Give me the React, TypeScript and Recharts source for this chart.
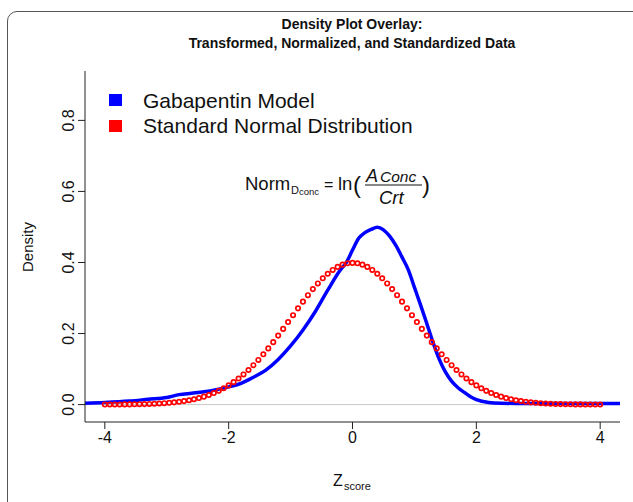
import { LineChart, Line, XAxis, YAxis, ReferenceLine } from "recharts";

// Gabapentin model density
const zBlue = [-4.32, -4.0, -3.6, -3.3, -3.0, -2.8, -2.6, -2.4, -2.2, -2.0, -1.8, -1.6, -1.4, -1.2, -1.0, -0.8, -0.6, -0.4, -0.2, -0.1, 0.0, 0.1, 0.2, 0.3, 0.4, 0.5, 0.6, 0.7, 0.8, 0.9, 1.0, 1.1, 1.2, 1.3, 1.4, 1.5, 1.6, 1.7, 1.8, 1.9, 2.0, 2.2, 2.4, 2.8, 3.5, 4.32];
const densBlue = [0.004, 0.006, 0.01, 0.015, 0.02, 0.028, 0.032, 0.036, 0.042, 0.05, 0.06, 0.077, 0.097, 0.127, 0.165, 0.21, 0.262, 0.322, 0.378, 0.4, 0.435, 0.468, 0.484, 0.493, 0.499, 0.492, 0.474, 0.448, 0.415, 0.38, 0.33, 0.28, 0.228, 0.175, 0.128, 0.092, 0.066, 0.048, 0.035, 0.023, 0.014, 0.006, 0.004, 0.003, 0.003, 0.003];

// standard normal reference points
const zRed = [
  -4.0, -3.92, -3.84, -3.76, -3.68, -3.6, -3.52, -3.44, -3.36, -3.28, -3.2, -3.12, -3.04, -2.96, -2.88, -2.8, -2.72,
  -2.64, -2.56, -2.48, -2.4, -2.32, -2.24, -2.16, -2.08, -2.0, -1.92, -1.84, -1.76, -1.68, -1.6, -1.52, -1.44, -1.36,
  -1.28, -1.2, -1.12, -1.04, -0.96, -0.88, -0.8, -0.72, -0.64, -0.56, -0.48, -0.4, -0.32, -0.24, -0.16, -0.08, 0.0,
  0.08, 0.16, 0.24, 0.32, 0.4, 0.48, 0.56, 0.64, 0.72, 0.8, 0.88, 0.96, 1.04, 1.12, 1.2, 1.28, 1.36, 1.44, 1.52, 1.6,
  1.68, 1.76, 1.84, 1.92, 2.0, 2.08, 2.16, 2.24, 2.32, 2.4, 2.48, 2.56, 2.64, 2.72, 2.8, 2.88, 2.96, 3.04, 3.12, 3.2,
  3.28, 3.36, 3.44, 3.52, 3.6, 3.68, 3.76, 3.84, 3.92, 4.0,
];
const densRed = [
  0.0001, 0.0002, 0.0003, 0.0003, 0.0005, 0.0006, 0.0008, 0.0011, 0.0014, 0.0018, 0.0024, 0.0031, 0.0039, 0.005,
  0.0063, 0.0079, 0.0099, 0.0122, 0.0151, 0.0184, 0.0224, 0.027, 0.0325, 0.0387, 0.0459, 0.054, 0.0632, 0.0734,
  0.0848, 0.0973, 0.1109, 0.1257, 0.1415, 0.1582, 0.1758, 0.1942, 0.2131, 0.2323, 0.2516, 0.2709, 0.2897, 0.3079,
  0.3251, 0.341, 0.3555, 0.3683, 0.379, 0.3876, 0.3939, 0.3977, 0.3989, 0.3977, 0.3939, 0.3876, 0.379, 0.3683,
  0.3555, 0.341, 0.3251, 0.3079, 0.2897, 0.2709, 0.2516, 0.2323, 0.2131, 0.1942, 0.1758, 0.1582, 0.1415, 0.1257,
  0.1109, 0.0973, 0.0848, 0.0734, 0.0632, 0.054, 0.0459, 0.0387, 0.0325, 0.027, 0.0224, 0.0184, 0.0151, 0.0122,
  0.0099, 0.0079, 0.0063, 0.005, 0.0039, 0.0031, 0.0024, 0.0018, 0.0014, 0.0011, 0.0008, 0.0006, 0.0005, 0.0003,
  0.0003, 0.0002, 0.0001,
];

const xTicks = [-4, -2, 0, 2, 4];
const yTicks = [0, 0.2, 0.4, 0.6, 0.8];
const legendNames = ["Gabapentin Model", "Standard Normal Distribution"];
const legendColors = ["#0000FF", "#FF0000"];

const X_DOMAIN: [number, number] = [-4.32, 4.32];
const Y_DOMAIN: [number, number] = [-0.049, 0.939];
const FONT = "'Liberation Sans', Arial, sans-serif";
const INK = "#111";

const blueData = zBlue.map((z, i) => ({ z, d: densBlue[i] }));
const redData = zRed.map((z, i) => ({ z, d: densRed[i] }));

const YTick = ({ x, y, payload }: any) => (
  <text
    x={x}
    y={y}
    transform={`rotate(-90 ${x} ${y})`}
    textAnchor="middle"
    fontSize={16}
    fill={INK}
    fontFamily={FONT}
  >
    {Number(payload.value).toFixed(1)}
  </text>
);

const App = () => {
  return (
    <div
      style={{
        position: "absolute",
        left: 0,
        top: 0,
        width: 633,
        height: 502,
        overflow: "hidden",
        background: "#fff",
        fontFamily: FONT,
      }}
    >
      {/* outer figure frame, runs off the right and bottom */}
      <div
        style={{
          position: "absolute",
          left: 7,
          top: 11,
          width: 700,
          height: 600,
          border: "1px solid #555",
          borderRadius: 10,
        }}
      />
      <LineChart width={633} height={502} margin={{ top: 71, right: 13, bottom: 50, left: 45 }}>
        <XAxis
          dataKey="z"
          type="number"
          domain={X_DOMAIN}
          ticks={xTicks}
          allowDataOverflow
          axisLine={{ stroke: "#222" }}
          tickLine={{ stroke: "#222" }}
          tickSize={7}
          tickMargin={3}
          height={30}
          tick={{ fontSize: 16, fill: INK, fontFamily: FONT }}
        />
        <XAxis
          xAxisId="top"
          orientation="top"
          type="number"
          domain={X_DOMAIN}
          allowDataOverflow
          axisLine={{ stroke: "#222" }}
          tick={false}
          tickLine={false}
          height={0}
        />
        <YAxis
          type="number"
          domain={Y_DOMAIN}
          ticks={yTicks}
          allowDataOverflow
          axisLine={{ stroke: "#222" }}
          tickLine={{ stroke: "#222" }}
          tickSize={7}
          tickMargin={4}
          width={40}
          tick={<YTick />}
        />
        <YAxis
          yAxisId="right"
          orientation="right"
          type="number"
          domain={Y_DOMAIN}
          allowDataOverflow
          axisLine={{ stroke: "#222" }}
          tick={false}
          tickLine={false}
          width={0}
        />
        <ReferenceLine y={0} stroke="#c8c8c8" strokeWidth={1} />
        <Line
          data={blueData}
          dataKey="d"
          type="monotone"
          stroke="#0000FF"
          strokeWidth={3.5}
          dot={false}
          activeDot={false}
          isAnimationActive={false}
        />
        <Line
          data={redData}
          dataKey="d"
          stroke="none"
          dot={{ r: 2.2, stroke: "#FF0000", strokeWidth: 1.7, fill: "none" }}
          activeDot={false}
          isAnimationActive={false}
        />
      </LineChart>
      <svg
        width={633}
        height={502}
        style={{ position: "absolute", left: 0, top: 0, pointerEvents: "none" }}
        fontFamily={FONT}
      >
        <text x={352} y={29} textAnchor="middle" fontSize={14} fontWeight="bold" fill={INK}>
          Density Plot Overlay:
        </text>
        <text x={352} y={48} textAnchor="middle" fontSize={14} fontWeight="bold" fill={INK}>
          Transformed, Normalized, and Standardized Data
        </text>

        {legendNames.map((name, i) => (
          <g key={name}>
            <rect x={109} y={94 + i * 26} width={13} height={12} fill={legendColors[i]} />
            <text x={143} y={108 + i * 25} fontSize={21} fill={INK}>
              {name}
            </text>
          </g>
        ))}

        <text x={33} y={247} transform="rotate(-90 33 247)" textAnchor="middle" fontSize={15} fill={INK}>
          Density
        </text>
        <text x={333} y={486} fontSize={16} fill={INK}>
          Z
        </text>
        <text x={344} y={490} fontSize={11} fill={INK}>
          score
        </text>

        {/* formula */}
        <text x={245} y={190} fontSize={18.5} fill={INK}>
          Norm
        </text>
        <text x={291} y={194} fontSize={11} fill={INK}>
          D
        </text>
        <text x={299} y={195} fontSize={9.5} fill={INK}>
          conc
        </text>
        <text x={324} y={190} fontSize={16} fill={INK}>
          =
        </text>
        <text x={338} y={190} fontSize={18.5} fill={INK}>
          ln
        </text>
        <text x={353} y={193} fontSize={24} fill={INK}>
          (
        </text>
        <text x={366} y={182} fontSize={18} fontStyle="italic" fill={INK}>
          A
        </text>
        <text x={380} y={182} fontSize={15.5} fontStyle="italic" fill={INK}>
          Conc
        </text>
        <line x1={365} x2={422} y1={185} y2={185} stroke={INK} strokeWidth={1} />
        <text x={379} y={204} fontSize={18.5} fontStyle="italic" fill={INK}>
          Crt
        </text>
        <text x={422} y={193} fontSize={24} fill={INK}>
          )
        </text>
      </svg>
    </div>
  );
};

export default App;
